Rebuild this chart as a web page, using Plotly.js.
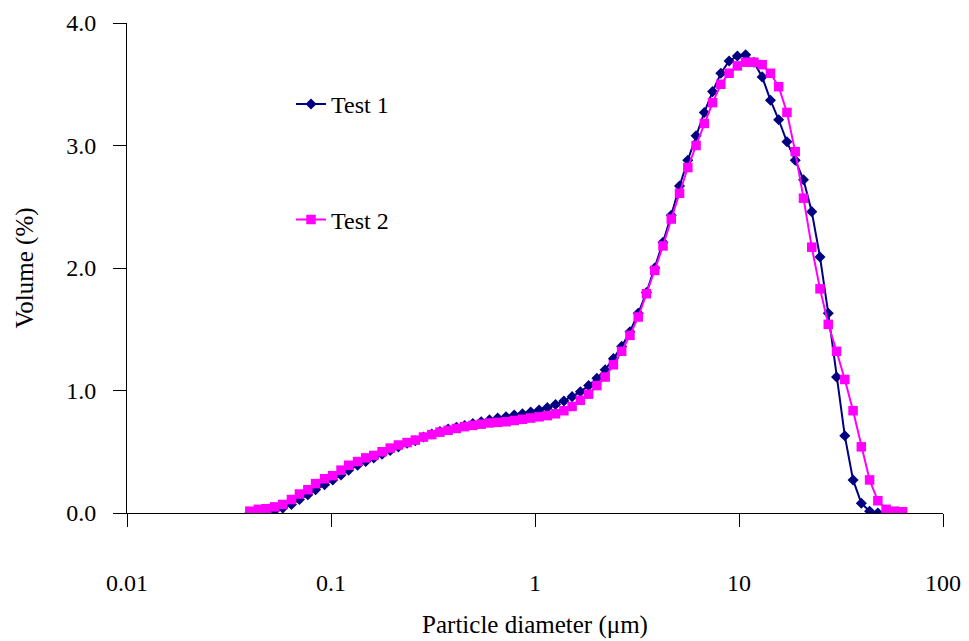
<!DOCTYPE html>
<html>
<head>
<meta charset="utf-8">
<script src="https://cdn.plot.ly/plotly-3.0.1.min.js"></script>
<style>html,body{margin:0;padding:0;background:#fff;}#chart{width:969px;height:641px;}</style>
</head>
<body>
<div id="chart"></div>
<script>
// Particle diameter channels (µm)
var diameter = [0.040,0.044,0.048,0.053,0.058,0.064,0.070,0.077,0.084,0.093,
  0.102,0.112,0.122,0.135,0.148,0.162,0.178,0.195,0.214,0.236,
  0.259,0.284,0.312,0.342,0.375,0.412,0.452,0.496,0.545,0.598,
  0.656,0.721,0.791,0.868,0.953,1.047,1.149,1.261,1.385,1.520,
  1.669,1.832,2.011,2.208,2.423,2.660,2.920,3.206,3.519,3.863,
  4.241,4.656,5.111,5.611,6.159,6.761,7.422,8.148,8.944,9.819,
  10.78,11.83,12.99,14.26,15.65,17.18,18.86,20.71,22.73,24.95,
  27.39,30.07,33.01,36.24,39.78,43.67,47.94,52.62,57.77,63.41];

// Volume (%) – Test 1 (79 channels)
var test1 = [0.00,0.01,0.01,0.02,0.04,0.07,0.11,0.15,0.19,0.23,
  0.27,0.31,0.35,0.39,0.42,0.45,0.48,0.51,0.54,0.57,
  0.59,0.62,0.645,0.665,0.685,0.70,0.715,0.73,0.745,0.76,
  0.775,0.785,0.80,0.81,0.825,0.84,0.86,0.885,0.915,0.95,
  0.99,1.04,1.10,1.17,1.26,1.36,1.48,1.63,1.80,2.00,
  2.21,2.43,2.67,2.88,3.08,3.27,3.44,3.59,3.69,3.73,
  3.74,3.68,3.56,3.37,3.21,3.03,2.88,2.72,2.46,2.09,
  1.63,1.11,0.63,0.27,0.08,0.015,0.00,0.00,0.00];

// Volume (%) – Test 2 (80 channels)
var test2 = [0.015,0.03,0.035,0.05,0.07,0.11,0.155,0.19,0.24,0.28,
  0.305,0.35,0.39,0.42,0.45,0.47,0.50,0.53,0.555,0.575,
  0.595,0.62,0.64,0.66,0.675,0.69,0.705,0.715,0.725,0.735,
  0.74,0.745,0.755,0.765,0.775,0.785,0.795,0.81,0.835,0.87,
  0.92,0.97,1.04,1.11,1.21,1.32,1.45,1.60,1.79,1.98,
  2.18,2.40,2.61,2.82,3.00,3.18,3.35,3.50,3.59,3.65,
  3.68,3.68,3.66,3.59,3.48,3.27,2.95,2.57,2.17,1.83,
  1.54,1.32,1.09,0.835,0.54,0.27,0.10,0.03,0.015,0.01];

var xTickVals = [0.01, 0.1, 1, 10, 100];
var xTickText = ['0.01', '0.1', '1', '10', '100'];

var FONT = "'Liberation Serif', 'Times New Roman', Times, serif";

var traces = [
  {x: diameter.slice(0, test1.length), y: test1, name: 'Test 1', type: 'scatter', mode: 'lines+markers',
   line: {color: '#000080', width: 2},
   marker: {symbol: 'diamond', size: 8.5, color: '#000080'},
   legend: 'legend'},
  {x: diameter.slice(0, test2.length), y: test2, name: 'Test 2', type: 'scatter', mode: 'lines+markers',
   line: {color: '#FF00FF', width: 2},
   marker: {symbol: 'square', size: 9.5, color: '#FF00FF'},
   legend: 'legend2'}
];

var layout = {
  width: 969, height: 641,
  margin: {l: 127, r: 26, t: 22.5, b: 127.5, pad: 0},
  paper_bgcolor: '#fff', plot_bgcolor: '#fff',
  font: {family: FONT, size: 24, color: '#000'},
  showlegend: true,
  legend: {x: 0.201, y: 0.834, xanchor: 'left', yanchor: 'middle', bgcolor: 'rgba(0,0,0,0)',
           font: {family: FONT, size: 24, color: '#000'}},
  legend2: {x: 0.201, y: 0.598, xanchor: 'left', yanchor: 'middle', bgcolor: 'rgba(0,0,0,0)',
           font: {family: FONT, size: 24, color: '#000'}},
  xaxis: {
    type: 'log', range: [-2, 2],
    tickvals: xTickVals, ticktext: xTickText,
    ticks: 'outside', ticklen: 13, tickwidth: 1, tickcolor: '#000',
    ticklabelstandoff: 35,
    showline: true, linecolor: '#000', linewidth: 1,
    showgrid: false, zeroline: false, automargin: false,
    tickfont: {family: FONT, size: 24, color: '#000'},
    title: {text: 'Particle diameter (μm)', font: {family: FONT, size: 25, color: '#000'}, standoff: 20}
  },
  yaxis: {
    range: [0, 4], dtick: 1, tick0: 0, tickformat: '.1f',
    ticks: 'outside', ticklen: 13, tickwidth: 1, tickcolor: '#000',
    ticklabelstandoff: 12,
    showline: true, linecolor: '#000', linewidth: 1,
    showgrid: false, zeroline: false, automargin: false,
    tickfont: {family: FONT, size: 24, color: '#000'},
    title: {text: 'Volume (%)', font: {family: FONT, size: 25, color: '#000'}, standoff: 25}
  }
};

Plotly.newPlot('chart', traces, layout, {staticPlot: true, displayModeBar: false});
</script>
</body>
</html>
